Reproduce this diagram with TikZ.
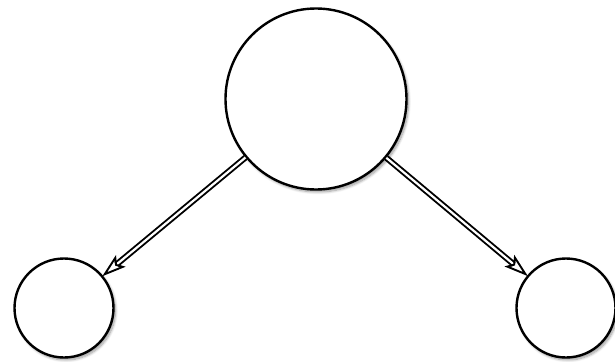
\documentclass[tikz,border=0pt]{standalone}
\usetikzlibrary{arrows.meta,shadows.blur}
\begin{document}
\begin{tikzpicture}[x=1pt,y=-1pt,
  ball/.style={circle, draw, line width=2.4pt, fill=white, inner sep=0pt,
    blur shadow={shadow xshift=2pt, shadow yshift=-2.5pt, shadow blur steps=8, shadow opacity=40, shadow blur radius=2.5pt}},
  link/.style={draw, line width=1.9pt, double=white, double distance=2.2pt,
    -{Stealth[open, inset=5pt, length=24pt, width=15pt, line width=1.9pt]}, shorten >=-1pt}]
\useasboundingbox (0,0) rectangle (615,361);
\node[ball, minimum size=181pt] (top) at (316,99) {};
\node[ball, minimum size=99pt] (left) at (64,308) {};
\node[ball, minimum size=99pt] (right) at (566,308) {};
\path[link] (top) -- (left);
\path[link] (top) -- (right);
\end{tikzpicture}
\end{document}
